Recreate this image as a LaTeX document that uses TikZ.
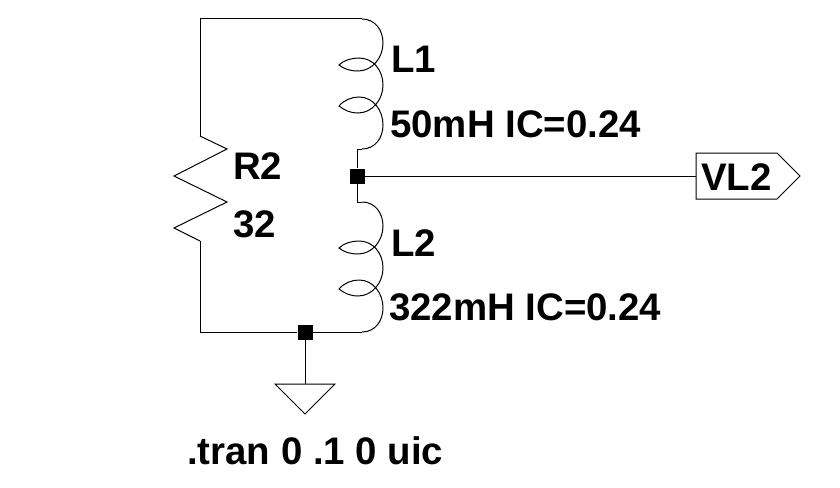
\documentclass[tikz,border=0pt]{standalone}
\usepackage{fontspec}
\setmainfont{Liberation Sans}
\tikzset{
  wire/.style={line width=1pt, line join=miter},
  junct/.style={draw=none, fill=black, rectangle, inner sep=0pt, minimum size=15pt},
  lbl/.style={anchor=base west, inner sep=0pt, font=\fontsize{38.4}{38.4}\selectfont\bfseries},
  coil/.pic={
    \draw [wire] (362,19) .. controls (375,19) and (383,30) .. (383,43)
      .. controls (383,58) and (372,71) .. (358,71)
      .. controls (350,71) and (344,69) .. (339,65)
      .. controls (344,60) and (352,58) .. (359,58)
      .. controls (373,58) and (383,70) .. (383,85)
      .. controls (383,100) and (372,113) .. (358,113)
      .. controls (350,113) and (344,110) .. (339,106)
      .. controls (344,100) and (352,97) .. (359,97)
      .. controls (373,97) and (383,110) .. (383,125)
      .. controls (383,138) and (375,149) .. (362,149);
  }
}
\begin{document}
\begin{tikzpicture}[x=1pt, y=-1pt]
\useasboundingbox (0,0) rectangle (840,487);

\coordinate (tl) at (200,19);
\coordinate (tr) at (362,19);
\coordinate (bl) at (200,332);
\coordinate (br) at (362,332);
\coordinate (c1) at (357,149);
\coordinate (c2) at (357,202);
\coordinate (r1) at (200,136);
\coordinate (r2) at (200,241);
\coordinate (gnd) at (305,384);

\node [junct] (j1) at (357,176) {};
\node [junct] (j2) at (305,332) {};

\pic at (0,0) {coil};
\pic at (0,183) {coil};

\draw [wire] (r1) -- (tl) -- (tr);
\draw [wire] (r2) -- (bl) -- (j2) -- (br);
\draw [wire] (362,149) -- (c1) -- (j1) -- (c2) -- (362,202);

\draw [wire] (r1) -- (227,149) -- (174,176) -- (227,202) -- (174,228) -- (r2);

\draw [wire] (j2) -- (gnd);
\draw [wire] (275,384) -- (335,384) -- (305,414) -- cycle;

\coordinate (flag) at (696,176);
\draw [wire] (j1) -- (flag);
\draw [wire] (flag) -- (696,153) -- (777,153) -- (800,176) -- (777,199) -- (696,199) -- cycle;

\node [lbl] (n1) at (391,72) {L1};
\node [lbl] (n2) at (390,137) {50mH IC=0.24};
\node [lbl] (n3) at (233,179) {R2};
\node [lbl] (n4) at (233,237) {32};
\node [lbl] (n5) at (391,256) {L2};
\node [lbl] (n6) at (389,320) {322mH IC=0.24};
\node [lbl] (n7) at (701,190) {VL2};
\node [lbl] (n8) at (187,464) {.tran 0 .1 0 uic};

\end{tikzpicture}
\end{document}
